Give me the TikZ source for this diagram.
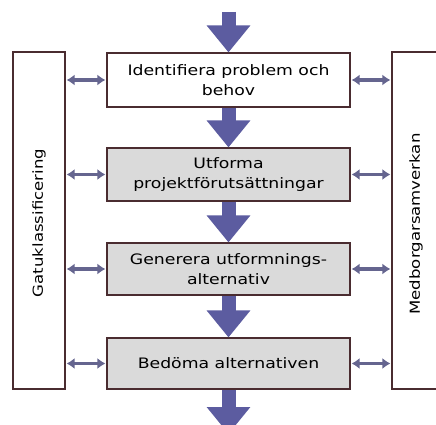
\documentclass[tikz,border=0pt]{standalone}
\usepackage{fontspec}
\setmainfont{DejaVu Sans}[FakeStretch=1.2]
\usetikzlibrary{arrows.meta}
\definecolor{edgec}{HTML}{4A2C30}
\definecolor{boxgray}{HTML}{DADADA}
\definecolor{bigarrow}{HTML}{5C5CA0}
\definecolor{smallarrow}{HTML}{65658F}
\begin{document}
\begin{tikzpicture}[x=1pt,y=-1pt,
  stepbox/.style={draw=edgec,line width=1.1pt,minimum width=243pt,align=center,
    font=\fontsize{14.4}{20}\selectfont,inner sep=0pt},
  sidebox/.style={draw=edgec,line width=1.1pt,minimum height=337pt,inner sep=0pt},
  flow/.style={draw=bigarrow,line width=14pt,-{Triangle[width=42pt,length=27pt]}},
  link/.style={draw=smallarrow,line width=3.2pt,{Latex[length=8pt,width=11pt]}-{Latex[length=8pt,width=11pt]},shorten <=1pt,shorten >=1pt},
  sidelabel/.style={rotate=90,font=\fontsize{13.8}{16}\selectfont}]
\clip (0,0) rectangle (436,425);
\fill[white] (0,0) rectangle (436,425);
\node[sidebox,minimum width=52pt] (L) at (39,220.5) {};
\node[sidebox,minimum width=53pt] (R) at (418.5,220.5) {};
\node[sidelabel] (Lt) at (39,223) {Gatuklassificering};
\node[sidelabel] (Rt) at (416,224) {Medborgarsamverkan};
\node[stepbox,fill=white,minimum height=54pt] (b1) at (228.5,80) {Identifiera problem och\\behov};
\node[stepbox,fill=boxgray,minimum height=53pt] (b2) at (228.5,174.5) {Utforma\\projektförutsättningar};
\node[stepbox,fill=boxgray,minimum height=52pt] (b3) at (228.5,269) {Generera utformnings-\\alternativ};
\node[stepbox,fill=boxgray,minimum height=51pt] (b4) at (228.5,363.5) {Bedöma alternativen};
\coordinate (top) at (228.5,12);
\coordinate (bot) at (228.5,434);
\draw[flow] (top) -- (b1.north);
\draw[flow] (b1.south) -- (b2.north);
\draw[flow] (b2.south) -- (b3.north);
\draw[flow] (b3.south) -- (b4.north);
\draw[flow] (b4.south) -- (bot);
\foreach \b in {b1,b2,b3,b4}{
  \draw[link] (L.east |- \b.west) -- (\b.west);
  \draw[link] (\b.east) -- (R.west |- \b.east);
}
\end{tikzpicture}
\end{document}
